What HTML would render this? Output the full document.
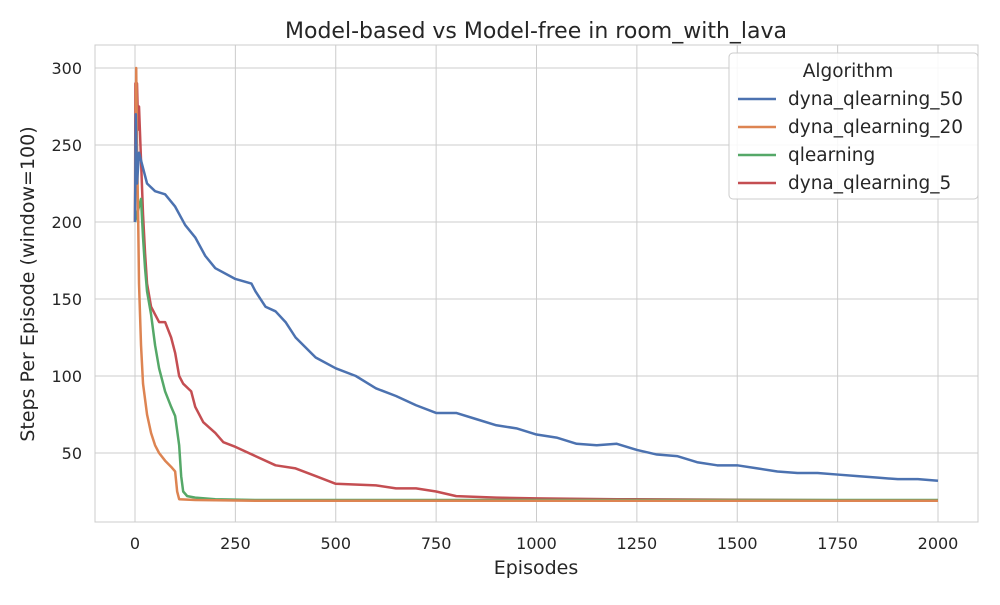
<!DOCTYPE html>
<html><head><meta charset="utf-8"><style>
body{margin:0;background:#fff;font-family:"Liberation Sans","DejaVu Sans",sans-serif}
svg text{font-family:"DejaVu Sans","Liberation Sans",sans-serif;fill:#262626}
</style></head><body>
<svg id="c" width="1000" height="600">
<rect x="95" y="45" width="883" height="477" fill="#fff" stroke="#ccc"/>
<g id="grid"></g><g id="lines"></g><g id="ticks"></g>
<text x="536" y="38" font-size="22" text-anchor="middle">Model-based vs Model-free in room_with_lava</text>
<text x="536" y="574" font-size="19" text-anchor="middle">Episodes</text>
<text x="34" y="284" font-size="19" text-anchor="middle" transform="rotate(-90 34 284)">Steps Per Episode (window=100)</text>
<g>
<rect x="729" y="53" width="249" height="146" rx="4" fill="#fff" fill-opacity="0.85" stroke="#ccc"/>
<text x="848" y="77" font-size="18.5" text-anchor="middle">Algorithm</text>
<g id="leg"></g></g>
</svg>
<script>
const xTicks=[0,250,500,750,1000,1250,1500,1750,2000];
const yTicks=[50,100,150,200,250,300];
const seriesNames=["dyna_qlearning_50","dyna_qlearning_20","qlearning","dyna_qlearning_5"];
const colors=["#4c72b0","#dd8452","#55a868","#c44e52"];
const blueX=[0,2,5,10,20,30,50,75,100,125,150,175,200,250,290,300,325,350,375,400,450,500,550,600,650,700,750,800,850,900,950,1000,1050,1100,1150,1200,1250,1300,1350,1400,1450,1500,1550,1600,1650,1700,1750,1800,1850,1900,1950,2000];
const blueY=[200,270,225,245,235,225,220,218,210,198,190,178,170,163,160,155,145,142,135,125,112,105,100,92,87,81,76,76,72,68,66,62,60,56,55,56,52,49,48,44,42,42,40,38,37,37,36,35,34,33,33,32];
const orangeX=[0,3,5,8,10,15,20,30,40,50,60,75,90,100,105,110,150,300,2000];
const orangeY=[200,300,250,200,160,120,95,75,63,55,50,45,41,38,25,20,19.5,19,19];
const greenX=[0,10,15,20,25,30,40,50,60,75,90,100,110,115,120,130,150,200,300,2000];
const greenY=[200,210,215,190,170,155,140,120,105,90,80,74,55,35,25,22,21,20,19.5,19.5];
const redX=[0,1,3,5,8,10,15,20,25,30,40,50,60,75,90,100,110,120,140,150,170,200,220,250,300,350,400,450,500,600,650,700,750,800,900,1000,1200,2000];
const redY=[200,290,240,290,260,275,240,205,180,160,145,140,135,135,125,115,100,95,90,80,70,63,57,54,48,42,40,35,30,29,27,27,25,22,21,20.5,20,19];
const X=v=>135+v*0.4015, Y=v=>530-v*1.54;
const ns="http://www.w3.org/2000/svg";
function mk(t,a,p){const e=document.createElementNS(ns,t);for(const k in a)e.setAttribute(k,a[k]);p.appendChild(e);return e;}
const grid=document.getElementById('grid'),tk=document.getElementById('ticks');
xTicks.forEach(t=>{const l=mk('line',{x1:X(t),x2:X(t),y1:45,y2:522,stroke:'#ccc'},grid);


const s=mk('text',{x:X(t),y:549,'font-size':16,'text-anchor':'middle'},tk);s.textContent=t;

});
yTicks.forEach(t=>{const l=mk('line',{x1:95,x2:978,y1:Y(t),y2:Y(t),stroke:'#ccc'},grid);


const s=mk('text',{x:82,y:Y(t)+6,'font-size':16,'text-anchor':'end'},tk);s.textContent=t;

});
const all=[[blueX,blueY],[orangeX,orangeY],[greenX,greenY],[redX,redY]];
const lg=document.getElementById('lines'),leg=document.getElementById('leg');
[3,2,1,0].forEach(i=>{const [xs,ys]=all[i];
const p=mk('polyline',{points:xs.map((x,j)=>X(x)+','+Y(ys[j])).join(' '),fill:'none',stroke:colors[i],'stroke-width':2.5,'stroke-linejoin':'round'},lg);

});
seriesNames.forEach((n,i)=>{const y=99+i*28;
const l=mk('line',{x1:738,x2:776,y1:y,y2:y,stroke:colors[i],'stroke-width':2.5},leg);


const t=mk('text',{x:788,y:y+6,'font-size':18.5},leg);t.textContent=n;

});
</script>
</body></html>
